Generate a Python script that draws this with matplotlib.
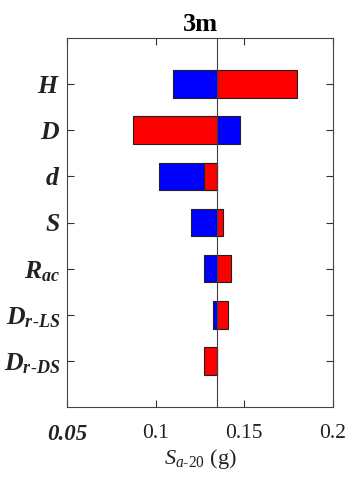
import matplotlib.pyplot as plt

plt.rcParams['font.family'] = ['Liberation Serif', 'DejaVu Serif']
plt.rcParams['mathtext.fontset'] = 'custom'
plt.rcParams['mathtext.rm'] = 'Liberation Serif'
plt.rcParams['mathtext.it'] = 'Liberation Serif:italic'
plt.rcParams['mathtext.bf'] = 'Liberation Serif:italic:bold'

# tornado data: response when each parameter goes low (blue) / high (red)
params = [r'$\mathbf{H}$', r'$\mathbf{D}$', r'$\mathbf{d}$', r'$\mathbf{S}$',
          r'$\mathbf{R_{ac}}$', r'$\mathbf{D_{r\text{-}LS}}$', r'$\mathbf{D_{r\text{-}DS}}$']
blue_vals = [0.110, 0.1476, 0.1019, 0.1201, 0.1273, 0.1325, 0.1345]
red_vals = [0.180, 0.0874, 0.1274, 0.1382, 0.1423, 0.1408, 0.1271]
base_val = 0.1345
x_ticks = [0.05, 0.1, 0.15, 0.2]
x_ticklabels = ['0.05', '0.1', '0.15', '0.2']

fig = plt.figure(figsize=(3.53, 4.78), dpi=100)
ax = fig.add_axes([0.19, 0.1485, 0.753, 0.772])

ypos = list(range(1, len(params) + 1))
ax.barh(ypos, [b - base_val for b in blue_vals], left=base_val, height=0.6,
        color='#0000ff', edgecolor='#202020', linewidth=0.8, zorder=2)
ax.barh(ypos, [r - base_val for r in red_vals], left=base_val, height=0.6,
        color='#ff0000', edgecolor='#202020', linewidth=0.8, zorder=3)
ax.axvline(base_val, color='#404040', linewidth=0.8, zorder=4)

ax.set_xlim(0.05, 0.2)
ax.set_ylim(8, 0)
ax.set_yticks(ypos)
ax.set_yticklabels(params, fontsize=18.5)
ax.set_xticks(x_ticks)
ax.set_xticklabels(x_ticklabels, fontsize=15.5)
lbl0 = ax.get_xticklabels()[0]
lbl0.set_fontweight('bold')
lbl0.set_fontstyle('italic')
lbl0.set_fontsize(16.5)

ax.tick_params(direction='in', length=5, width=0.8, top=True, right=True,
               colors='#333333', labelcolor='#222222')
ax.tick_params(axis='y', pad=5)
ax.tick_params(axis='x', pad=12)
for s in ax.spines.values():
    s.set_color('#444444')
    s.set_linewidth(0.8)

ax.set_xlabel(r'$S_{a\text{-}20}$ (g)', fontsize=16, color='#222222', labelpad=2)
ax.set_title('3m', fontsize=19, fontweight='bold', pad=5)

fig.savefig('out.png', dpi=100)
